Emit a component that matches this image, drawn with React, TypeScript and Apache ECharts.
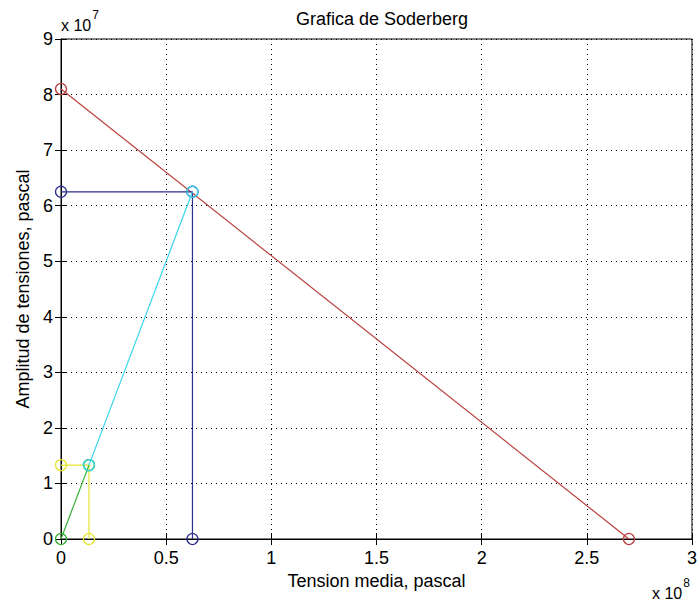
import React, { useEffect, useRef } from "react";
import * as echarts from "echarts";

// Data (pascal)
const redX = [0, 2.7e8];
const redY = [8.1e7, 0];
const blueX = [0, 0.625e8, 0.625e8];
const blueY = [6.25e7, 6.25e7, 0];
const yellowX = [0, 0.133e8, 0.133e8];
const yellowY = [1.33e7, 1.33e7, 0];
const greenX = [0, 0.133e8];
const greenY = [0, 1.33e7];
const cyanX = [0.133e8, 0.625e8];
const cyanY = [1.33e7, 6.25e7];

const titleText = "Grafica de Soderberg";
const xName = "Tension media, pascal";
const yName = "Amplitud de tensiones, pascal";
const xExp = "8";
const yExp = "7";

const FONT = "'Liberation Sans', Arial, sans-serif";

function mk(xs: number[], ys: number[], color: string, z: number) {
  return {
    type: "line",
    data: xs.map((x, i) => [x, ys[i]]),
    symbol: "circle",
    symbolSize: 11,
    clip: false,
    z,
    lineStyle: { color, width: 1.2 },
    itemStyle: { color: "rgba(0,0,0,0)", borderColor: color, borderWidth: 1.3 },
    emphasis: { disabled: true },
    silent: true,
  };
}

export default function App() {
  const ref = useRef<HTMLDivElement>(null);
  useEffect(() => {
    if (!ref.current) return;
    const chart = echarts.init(ref.current, null, { renderer: "svg" });
    const labelStyle = { fontSize: 18, color: "#000", fontFamily: FONT };
    const tick = { show: true, inside: true, length: 6, lineStyle: { color: "#000" } };
    const axisLine = { show: true, lineStyle: { color: "#000", width: 1 } };
    const split = { show: true, lineStyle: { color: "#000", type: [1, 4], width: 1 } };
    chart.setOption({
      animation: false,
      backgroundColor: "#fff",
      title: {
        text: titleText,
        left: 377,
        top: 5,
        textAlign: "center",
        textStyle: { fontSize: 18, fontWeight: "normal", color: "#000", fontFamily: FONT },
      },
      grid: { left: 61, right: 6, top: 39, bottom: 65, show: true, borderColor: "#000", borderWidth: 1, backgroundColor: "#fff" },
      xAxis: [
        {
          type: "value",
          min: 0,
          max: 3e8,
          interval: 0.5e8,
          position: "bottom",
          name: xName,
          nameLocation: "middle",
          nameGap: 33,
          nameTextStyle: labelStyle,
          axisLine,
          axisTick: tick,
          splitLine: split,
          axisLabel: { ...labelStyle, margin: 10, formatter: (v: number) => String(Math.round(v / 1e7) / 10) },
        },
        {
          type: "value",
          min: 0,
          max: 3e8,
          interval: 0.5e8,
          position: "top",
          axisLine,
          axisTick: tick,
          splitLine: { show: false },
          axisLabel: { show: false },
        },
      ],
      yAxis: [
        {
          type: "value",
          min: 0,
          max: 9e7,
          interval: 1e7,
          position: "left",
          name: yName,
          nameLocation: "middle",
          nameGap: 28,
          nameTextStyle: labelStyle,
          axisLine,
          axisTick: tick,
          splitLine: split,
          axisLabel: { ...labelStyle, margin: 8, formatter: (v: number) => String(Math.round(v / 1e7)) },
        },
        {
          type: "value",
          min: 0,
          max: 9e7,
          interval: 1e7,
          position: "right",
          axisLine,
          axisTick: tick,
          splitLine: { show: false },
          axisLabel: { show: false },
        },
      ],
      graphic: [
        {
          type: "text",
          left: 61,
          top: 9,
          style: {
            text: "{a|x 10}{b|" + yExp + "}",
            rich: {
              a: { fontSize: 16, fontFamily: FONT, fill: "#000", padding: [8, 0, 0, 0] },
              b: { fontSize: 12, fontFamily: FONT, fill: "#000", verticalAlign: "top", padding: [0, 0, 8, 1] },
            },
          },
        },
        {
          type: "text",
          left: 652,
          top: 577,
          style: {
            text: "{a|x 10}{b|" + xExp + "}",
            rich: {
              a: { fontSize: 16, fontFamily: FONT, fill: "#000", padding: [8, 0, 0, 0] },
              b: { fontSize: 12, fontFamily: FONT, fill: "#000", verticalAlign: "top", padding: [0, 0, 8, 1] },
            },
          },
        },
      ],
      series: [
        mk(redX, redY, "#b8403c", 3),
        mk(blueX, blueY, "#2f2f8f", 4),
        mk(yellowX, yellowY, "#e6e632", 5),
        mk(greenX, greenY, "#35b035", 6),
        mk(cyanX, cyanY, "#38d4ec", 7),
      ],
    });
    return () => chart.dispose();
  }, []);
  return <div ref={ref} style={{ position: "absolute", left: 0, top: 0, width: 700, height: 604 }} />;
}
